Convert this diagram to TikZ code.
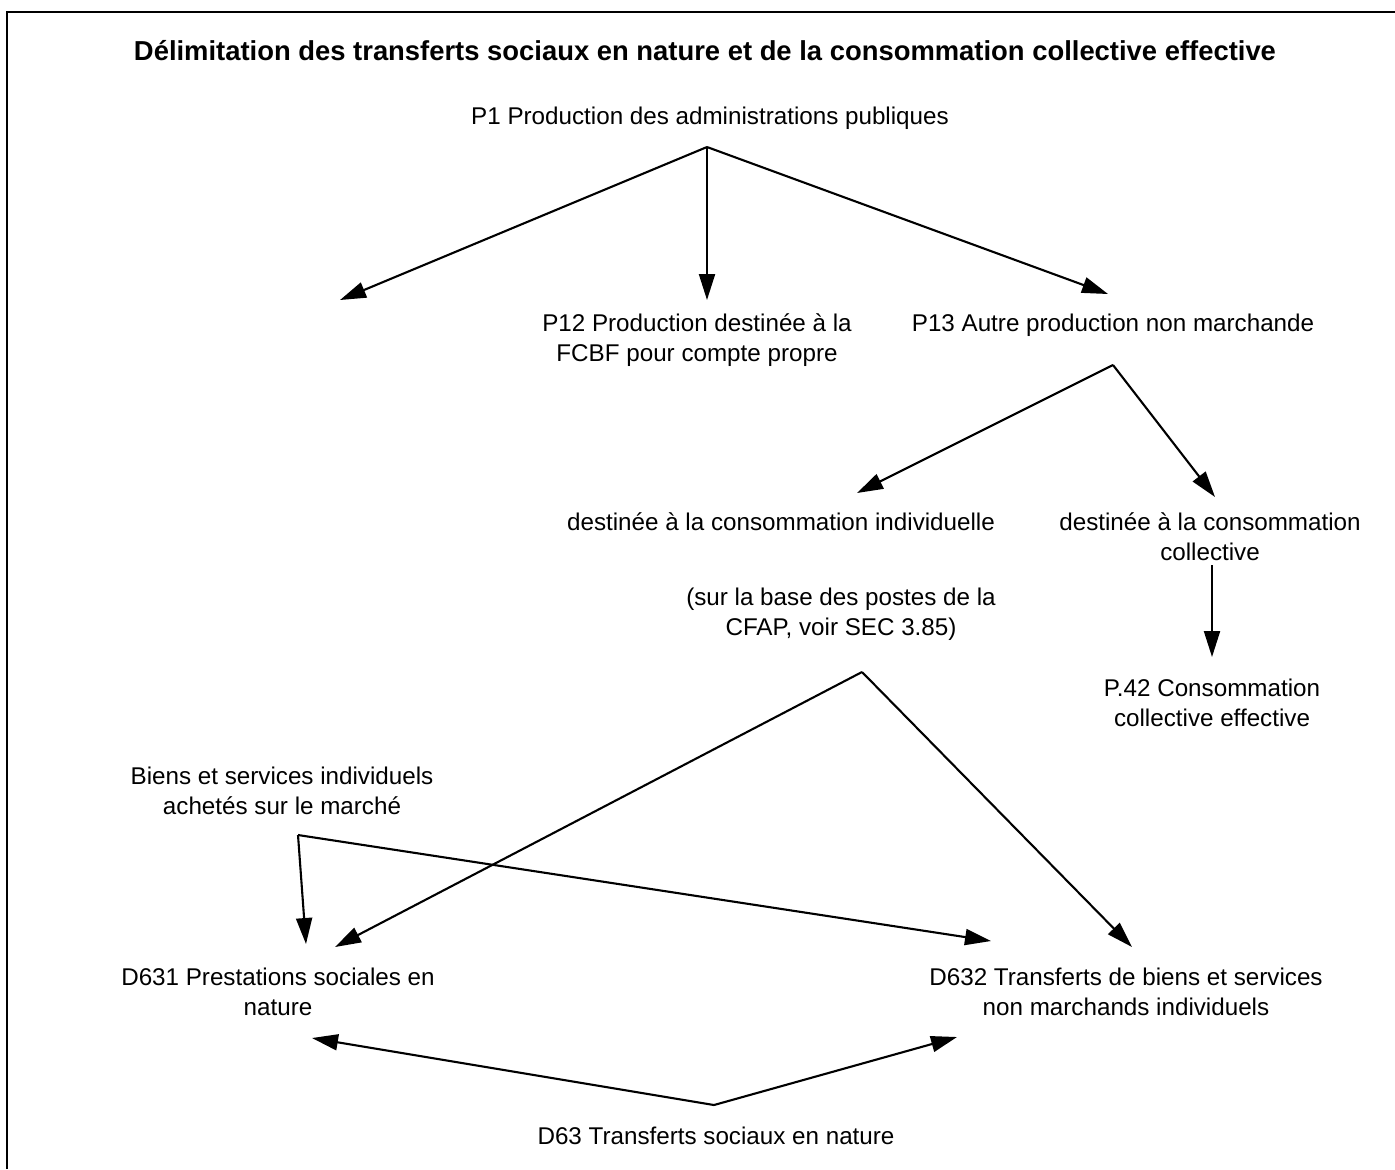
\documentclass[tikz,border=0pt]{standalone}
\usepackage{fontspec}
\setmainfont{Liberation Sans}
\usetikzlibrary{arrows.meta}
\begin{document}
\begin{tikzpicture}[x=0.5pt,y=-0.5pt,
  lbl/.style={inner sep=0pt, align=center, font=\fontsize{12.1}{15}\selectfont},
  ttl/.style={inner sep=0pt, font=\fontsize{13.7}{16}\selectfont\bfseries},
  conn/.style={line width=1.05pt, -{Triangle[length=13pt,width=8pt]}},
  framestyle/.style={line width=1.1pt}]
\useasboundingbox (0,0) rectangle (1395,1169);

% open frame: top and left edges
\coordinate (fl) at (7,1169);
\coordinate (ftl) at (7,12);
\coordinate (ftr) at (1395,12);
\draw[framestyle] (fl) -- (ftl) -- (ftr);

% labels
\node[ttl] (title) at (705,51) {Délimitation des transferts sociaux en nature et de la consommation collective effective};
\node[lbl] (p1) at (710,118) {P1 Production des administrations publiques};
\node[lbl] (p12) at (697,340) {P12 Production destinée à la\\FCBF pour compte propre};
\node[lbl] (p13) at (1113,325) {P13 Autre production non marchande};
\node[lbl] (indiv) at (781,522) {destinée à la consommation individuelle};
\node[lbl] (coll) at (1210,537) {destinée à la consommation\\collective};
\node[lbl] (cfap) at (841,614) {(sur la base des postes de la\\CFAP, voir SEC 3.85)};
\node[lbl] (p42) at (1212,703) {P.42 Consommation\\collective effective};
\node[lbl] (biens) at (282,791) {Biens et services individuels\\achetés sur le marché};
\node[lbl] (d631) at (278,992) {D631 Prestations sociales en\\nature};
\node[lbl] (d632) at (1126,992) {D632 Transferts de biens et services\\non marchands individuels};
\node[lbl] (d63) at (716,1136) {D63 Transferts sociaux en nature};

% branch points
\coordinate (p1fork) at (707,147);
\coordinate (p13fork) at (1113,365);
\coordinate (cfapfork) at (862,672);
\coordinate (biensfork) at (298,835);
\coordinate (d63fork) at (714,1105);

% arrow tips
\coordinate (tipleft) at (340,300);
\coordinate (tipp12) at (707,300);
\coordinate (tipp13) at (1108,294);
\coordinate (tipindiv) at (857,493);
\coordinate (tipcoll) at (1215,497);
\coordinate (collstart) at (1212,565);
\coordinate (tipp42) at (1212,657);
\coordinate (tipd631a) at (306,944);
\coordinate (tipd631b) at (335,947);
\coordinate (tipd632a) at (991,941);
\coordinate (tipd632b) at (1132,947);
\coordinate (tipd631c) at (312,1038);
\coordinate (tipd632c) at (957,1037);

% P1 branches
\draw[conn] (p1fork) -- (tipleft);
\draw[conn] (p1fork) -- (tipp12);
\draw[conn] (p1fork) -- (tipp13);

% P13 branches
\draw[conn] (p13fork) -- (tipindiv);
\draw[conn] (p13fork) -- (tipcoll);

% collective consumption
\draw[conn] (collstart) -- (tipp42);

% individual consumption split
\draw[conn] (cfapfork) -- (tipd631b);
\draw[conn] (cfapfork) -- (tipd632b);

% market goods and services
\draw[conn] (biensfork) -- (tipd631a);
\draw[conn] (biensfork) -- (tipd632a);

% D63 totals
\draw[conn] (d63fork) -- (tipd631c);
\draw[conn] (d63fork) -- (tipd632c);
\end{tikzpicture}
\end{document}
